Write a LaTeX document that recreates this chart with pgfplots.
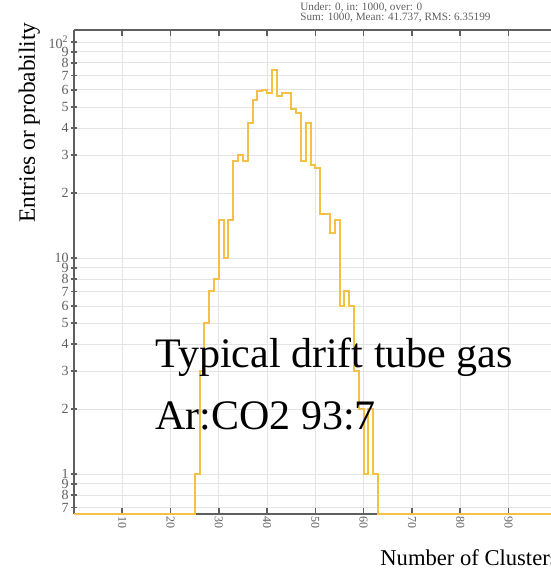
\documentclass[border=0pt]{standalone}
\usepackage{fontspec}
\setmainfont{Liberation Serif}
\usepackage{pgfplots}
\pgfplotsset{compat=1.18}
\usetikzlibrary{calc}
\definecolor{histc}{RGB}{245,192,70}
\definecolor{axgray}{RGB}{95,95,95}
\definecolor{gridc}{RGB}{228,228,228}
\begin{document}
\begin{tikzpicture}
\begin{axis}[
 set layers,
 scale only axis,
 width=238.5pt, height=242pt,
 ymode=log,
 xmin=0, xmax=98.8,
 ymin=0.653, ymax=113.6,
 axis x line=box, axis y line=left,
 axis line style={-, draw=axgray, line width=0.9pt},
 xtick={10,20,30,40,50,60,70,80,90},
 xticklabels={10,20,30,40,50,60,70,80,90},
 ytick={0.7,0.8,0.9,1,2,3,4,5,6,7,8,9,10,20,30,40,50,60,70,80,90,100},
 yticklabels={7,8,9,1,2,3,4,5,6,7,8,9,10,2,3,4,5,6,7,8,9,10\textsuperscript{2}},
 tick style={draw=axgray, line width=0.8pt},
 major tick length=3pt,
 minor tick length=0pt,
 grid=major,
 major grid style={draw=gridc, line width=0.4pt},
 tick label style={text=axgray},
 yticklabel style={font=\fontsize{7}{7}\selectfont, inner sep=1pt},
 xticklabel style={font=\fontsize{6}{6}\selectfont, rotate=-90, anchor=west, inner sep=1pt},
 clip=false,
]
\addplot[const plot, color=histc, line width=1pt] coordinates {
(0,0.653) (25,1) (26,3) (27,5) (28,7) (29,8) (30,15) (31,10) (32,15)
(33,28) (34,30) (35,28) (36,42) (37,54) (38,59) (39,60) (40,58) (41,74)
(42,56) (43,58) (44,58) (45,49) (46,47) (47,28) (48,42) (49,27) (50,26)
(51,16) (52,16) (53,13) (54,15) (55,6) (56,7) (57,6) (58,3) (59,2)
(60,1) (61,2) (62,1) (63,0.653) (98.8,0.653)
};
\node[anchor=base west, inner sep=0pt, font=\fontsize{21}{21}\selectfont] at (rel axis cs:0.1698,0.3017) {Typical drift tube gas};
\node[anchor=base west, inner sep=0pt, font=\fontsize{21}{21}\selectfont] at (rel axis cs:0.1698,0.1736) {Ar:CO2 93:7};
\node[rotate=90, anchor=base east, inner sep=0pt, font=\fontsize{11.7}{12}\selectfont] at (rel axis cs:-0.0818,1.0165) {Entries or probability};
\node[anchor=base west, inner sep=0pt, font=\fontsize{11.3}{12}\selectfont] at (rel axis cs:0.6415,-0.1054) {Number of Clusters};
\node[anchor=base west, inner sep=0pt, font=\fontsize{5.6}{6}\selectfont, text=axgray] at (rel axis cs:0.4738,1.0413) {Under: 0, in: 1000, over: 0};
\node[anchor=base west, inner sep=0pt, font=\fontsize{5.6}{6}\selectfont, text=axgray] at (rel axis cs:0.4738,1.0186) {Sum: 1000, Mean: 41.737, RMS: 6.35199};
\coordinate (o) at (rel axis cs:0,0);
\coordinate (tr) at (rel axis cs:1,1);
\end{axis}
\pgfresetboundingbox
\path[use as bounding box] ($(o)+(-37pt,-28pt)$) rectangle ($(tr)+(0pt,15pt)$);
\end{tikzpicture}
\end{document}
